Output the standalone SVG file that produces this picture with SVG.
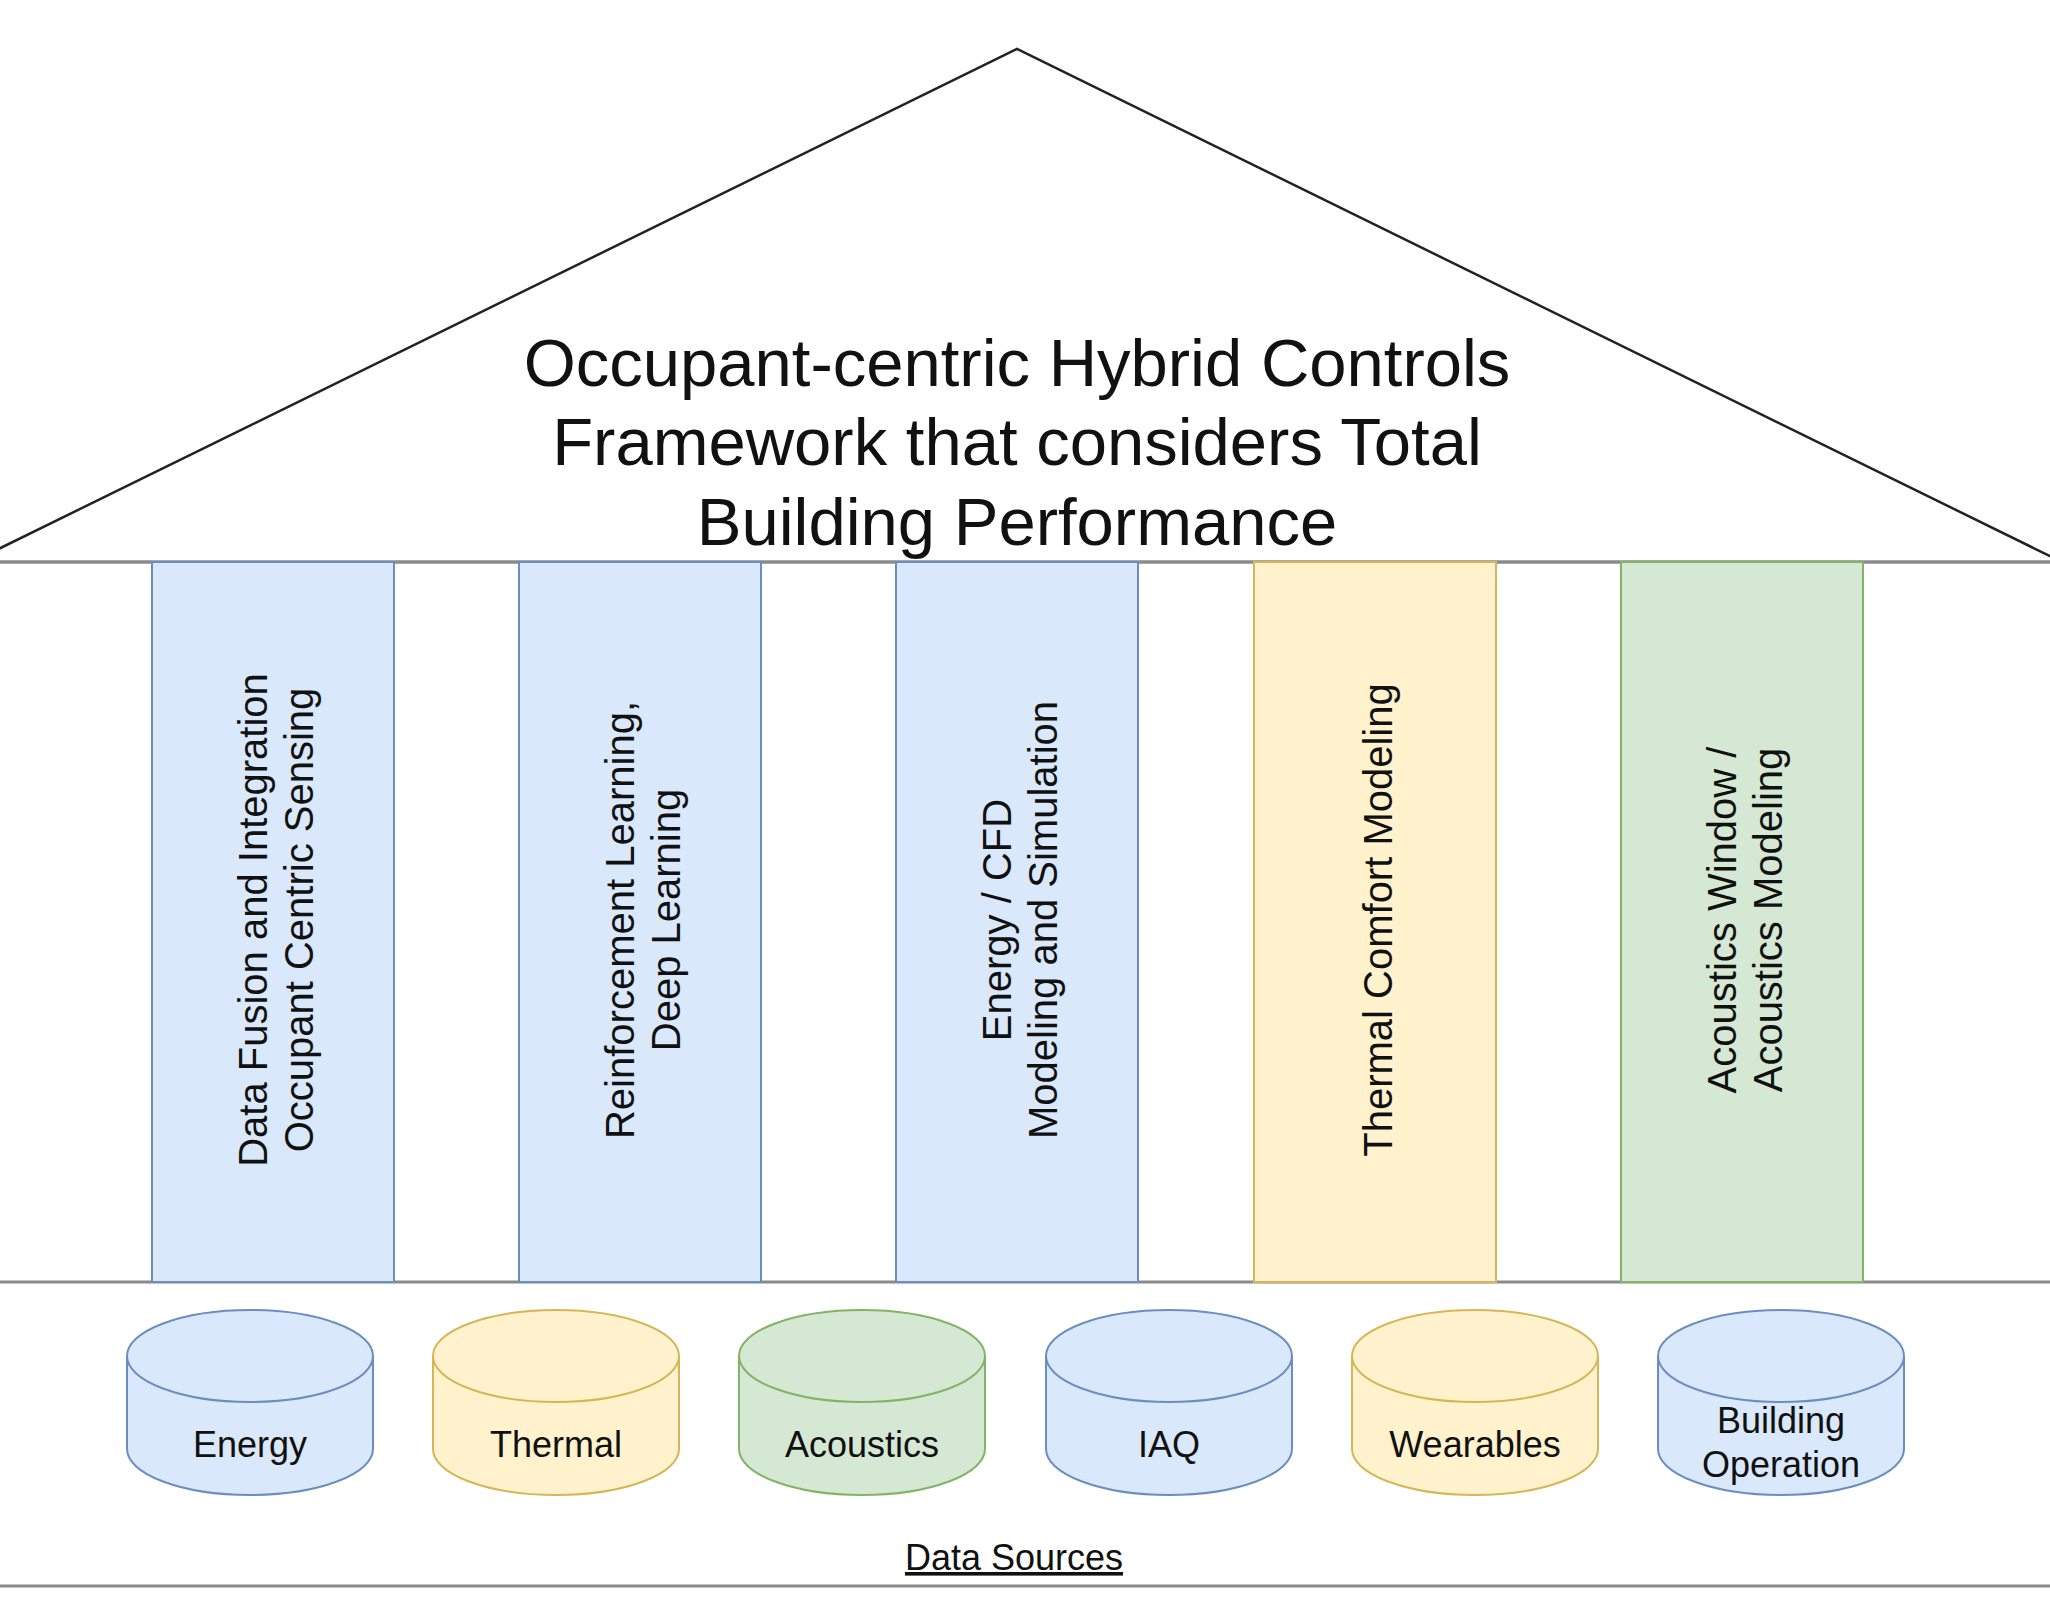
<svg xmlns="http://www.w3.org/2000/svg" width="2050" height="1618" viewBox="0 0 2050 1618">
<style>
text{font-family:"Liberation Sans",Arial,Helvetica,sans-serif;fill:#111;text-anchor:middle}
.title{font-size:67px}
.pt{font-size:40px}
.ct{font-size:36px}
.blue{fill:#dae8fc;stroke:#6c8ebf;stroke-width:2}
.yellow{fill:#fff2cc;stroke:#d6b656;stroke-width:2}
.green{fill:#d5e8d4;stroke:#82b366;stroke-width:2}
.hline{stroke:#8a8a8a;stroke-width:3;fill:none}
.roof{fill:none;stroke:#222;stroke-width:2.5;stroke-linejoin:miter}
</style>
<defs>
<g id="cyl">
<path d="M0,46 A123,46 0 0 1 246,46 L246,139 A123,46 0 0 1 0,139 Z"/>
<path d="M0,46 A123,46 0 0 0 246,46" fill="none"/>
</g>
</defs>
<rect width="2050" height="1618" fill="#ffffff"/>
<g id="roof">
<polygon class="roof" points="-28,562 1017,49 2062,562"/>
<text class="title" x="1017" y="386">Occupant-centric Hybrid Controls</text>
<text class="title" x="1017" y="465">Framework that considers Total</text>
<text class="title" x="1017" y="545">Building Performance</text>
</g>
<g id="connectors">
<line class="hline" x1="0" y1="562" x2="2050" y2="562"/>
<line class="hline" x1="0" y1="1282" x2="2050" y2="1282"/>
<line class="hline" x1="0" y1="1586" x2="2050" y2="1586"/>
</g>
<g id="pillar1">
<rect class="blue" x="152" y="562" width="242" height="720"/>
<g transform="translate(276,920) rotate(-90)">
<text class="pt" x="0" y="-9">Data Fusion and Integration</text>
<text class="pt" x="0" y="37">Occupant Centric Sensing</text>
</g>
</g>
<g id="pillar2">
<rect class="blue" x="519" y="562" width="242" height="720"/>
<g transform="translate(643,920) rotate(-90)">
<text class="pt" x="0" y="-9">Reinforcement Learning,</text>
<text class="pt" x="0" y="37">Deep Learning</text>
</g>
</g>
<g id="pillar3">
<rect class="blue" x="896" y="562" width="242" height="720"/>
<g transform="translate(1020,920) rotate(-90)">
<text class="pt" x="0" y="-9">Energy / CFD</text>
<text class="pt" x="0" y="37">Modeling and Simulation</text>
</g>
</g>
<g id="pillar4">
<rect class="yellow" x="1254" y="562" width="242" height="720"/>
<g transform="translate(1378,920) rotate(-90)">
<text class="pt" x="0" y="14">Thermal Comfort Modeling</text>
</g>
</g>
<g id="pillar5">
<rect class="green" x="1621" y="562" width="242" height="720"/>
<g transform="translate(1745,920) rotate(-90)">
<text class="pt" x="0" y="-9">Acoustics Window /</text>
<text class="pt" x="0" y="37">Acoustics Modeling</text>
</g>
</g>
<g id="energy">
<use href="#cyl" class="blue" x="127" y="1310"/>
<text class="ct" x="250" y="1457">Energy</text>
</g>
<g id="thermal">
<use href="#cyl" class="yellow" x="433" y="1310"/>
<text class="ct" x="556" y="1457">Thermal</text>
</g>
<g id="acoustics">
<use href="#cyl" class="green" x="739" y="1310"/>
<text class="ct" x="862" y="1457">Acoustics</text>
</g>
<g id="iaq">
<use href="#cyl" class="blue" x="1046" y="1310"/>
<text class="ct" x="1169" y="1457">IAQ</text>
</g>
<g id="wearables">
<use href="#cyl" class="yellow" x="1352" y="1310"/>
<text class="ct" x="1475" y="1457">Wearables</text>
</g>
<g id="building-operation">
<use href="#cyl" class="blue" x="1658" y="1310"/>
<text class="ct" x="1781" y="1433">Building</text>
<text class="ct" x="1781" y="1477">Operation</text>
</g>
<g id="data-sources">
<text class="ct" x="1014" y="1570" text-decoration="underline">Data Sources</text>
</g>
</svg>
